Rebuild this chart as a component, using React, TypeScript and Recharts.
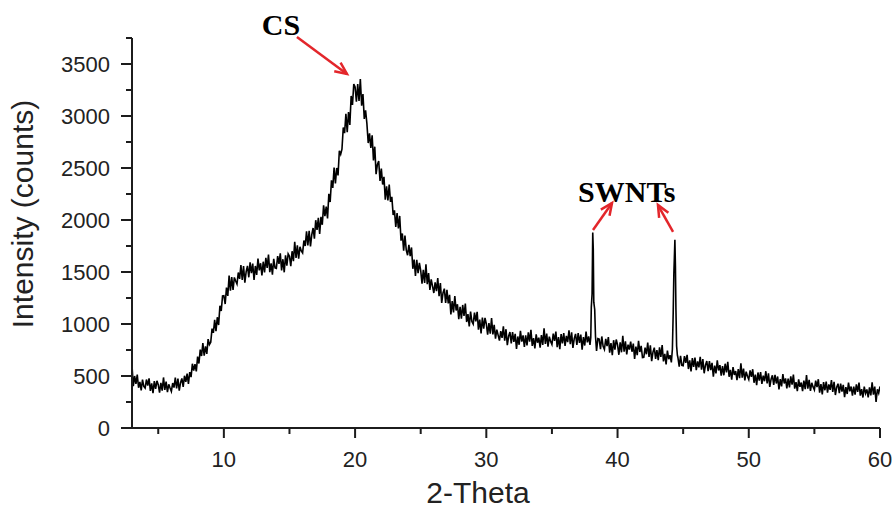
import React from "react"
import { LineChart, Line, XAxis, YAxis, ReferenceLine, ReferenceDot } from "recharts"

const scanStep = 0.1

// 3.0 - 37.8
const lowAngleStart = 3.0
const lowAngleCounts = [
  600, 403, 500, 425, 514, 387, 444, 361, 466, 399,
  384, 466, 408, 478, 356, 430, 336, 450, 376, 454,
  416, 340, 435, 359, 486, 366, 445, 345, 420, 384,
  352, 432, 388, 484, 380, 476, 360, 436, 476, 396,
  502, 443, 523, 424, 537, 489, 618, 551, 615, 544,
  686, 620, 753, 692, 816, 696, 784, 713, 855, 803,
  825, 955, 915, 1040, 930, 1065, 990, 1175, 1125, 1270,
  1272, 1192, 1350, 1270, 1466, 1321, 1451, 1328, 1448, 1413,
  1384, 1495, 1434, 1567, 1424, 1557, 1398, 1503, 1559, 1449,
  1592, 1490, 1580, 1423, 1558, 1472, 1629, 1516, 1584, 1466,
  1599, 1496, 1636, 1539, 1668, 1499, 1584, 1475, 1626, 1540,
  1535, 1653, 1578, 1679, 1516, 1623, 1497, 1660, 1562, 1675,
  1652, 1557, 1700, 1605, 1791, 1636, 1756, 1628, 1743, 1703,
  1684, 1803, 1750, 1891, 1756, 1897, 1746, 1859, 1923, 1821,
  1998, 1904, 2020, 1866, 2030, 1954, 2142, 2036, 2128, 2016,
  2252, 2173, 2381, 2309, 2504, 2352, 2500, 2429, 2665, 2631,
  2682, 2890, 2835, 3020, 2845, 3038, 2915, 3193, 3107, 3308,
  3280, 3137, 3308, 3145, 3355, 3100, 3210, 2972, 3055, 2927,
  2740, 2833, 2692, 2815, 2572, 2705, 2440, 2535, 2568, 2375,
  2495, 2341, 2415, 2196, 2323, 2188, 2341, 2174, 2222, 2049,
  2092, 1933, 2066, 1919, 2039, 1802, 1870, 1704, 1850, 1711,
  1661, 1762, 1653, 1736, 1531, 1620, 1462, 1616, 1488, 1588,
  1514, 1388, 1520, 1394, 1574, 1382, 1490, 1328, 1430, 1364,
  1298, 1400, 1316, 1442, 1268, 1394, 1202, 1298, 1340, 1202,
  1328, 1199, 1280, 1091, 1220, 1112, 1268, 1130, 1190, 1046,
  1164, 1052, 1183, 1077, 1197, 1019, 1095, 977, 1119, 1024,
  1000, 1109, 1025, 1117, 945, 1043, 909, 1062, 955, 1059,
  1000, 897, 1009, 906, 1058, 900, 992, 859, 946, 893,
  840, 931, 867, 978, 839, 950, 796, 882, 923, 814,
  923, 828, 906, 760, 880, 800, 935, 830, 890, 780,
  890, 795, 920, 830, 945, 790, 865, 765, 900, 820,
  868, 773, 893, 798, 958, 808, 908, 783, 878, 833,
  803, 908, 838, 928, 778, 873, 758, 903, 813, 913,
  790, 885, 825, 940, 805, 920, 770, 860, 905, 800,
  913, 818, 898, 753, 873, 793, 928, 823, 880,
]

// SWNT reflection near 38.1
const peak38Angles = [37.9, 37.96, 38.0, 38.06, 38.11, 38.15, 38.19, 38.26, 38.32, 38.4, 38.5]
const peak38Counts = [800, 870, 1160, 1290, 1880, 1720, 1210, 1140, 880, 740, 860]

// 38.6 - 44.0
const midAngleStart = 38.6
const midAngleCounts = [
  855, 758, 880, 785,
  755, 858, 787, 875, 724, 817, 701, 844, 753, 851,
  800, 704, 824, 728, 886, 735, 834, 708, 801, 754,
  830, 733, 811, 664, 782, 700, 838, 731, 789, 677,
  680, 772, 709, 821, 683, 796, 643, 730, 772, 664,
  750, 653, 776, 684, 797, 640, 713, 611, 744, 662,
  700,
]

// SWNT reflection near 44.4
const peak44Angles = [44.1, 44.18, 44.24, 44.29, 44.33, 44.37, 44.41, 44.45, 44.5, 44.56]
const peak44Counts = [630, 760, 1100, 1480, 1640, 1810, 1560, 1140, 790, 700]

// 44.6 - 60.0
const highAngleStart = 44.6
const highAngleCounts = [
  678, 590, 693, 603,
  599, 691, 626, 704, 567, 650, 544, 672, 588, 676,
  556, 640, 583, 685, 561, 663, 526, 605, 644, 547,
  644, 556, 626, 493, 600, 525, 650, 553, 605, 504,
  596, 507, 618, 534, 636, 493, 559, 465, 585, 510,
  548, 460, 567, 479, 621, 484, 572, 457, 541, 498,
  467, 553, 491, 565, 435, 513, 413, 534, 455, 537,
  424, 503, 450, 546, 429, 525, 395, 470, 506, 414,
  510, 428, 495, 370, 470, 401, 518, 428, 477, 382,
  474, 391, 496, 417, 513, 379, 441, 354, 467, 396,
  437, 355, 455, 373, 509, 379, 463, 356, 435, 395,
  367, 455, 393, 469, 340, 421, 322, 441, 363, 447,
  339, 419, 366, 460, 346, 443, 317, 392, 426, 334,
  427, 350, 414, 297, 393, 327, 437, 352, 399, 311,
  397, 320, 420, 347, 437, 312, 373, 293, 397, 333,
  371, 294, 390, 313, 439, 320, 398, 250, 372, 335,
  400,
]

const xTicks = [5, 10, 15, 20, 25, 30, 35, 40, 45, 50, 55, 60]
const yTicks = [0, 250, 500, 750, 1000, 1250, 1500, 1750, 2000, 2250, 2500, 2750, 3000, 3250, 3500, 3750]

const scanSegment = (start: number, counts: number[]) =>
  counts.map((c, i) => ({ theta: +(start + i * scanStep).toFixed(2), counts: c }))
const peakSegment = (angles: number[], counts: number[]) =>
  angles.map((a, i) => ({ theta: a, counts: counts[i] }))

const pattern = [
  ...scanSegment(lowAngleStart, lowAngleCounts),
  ...peakSegment(peak38Angles, peak38Counts),
  ...scanSegment(midAngleStart, midAngleCounts),
  ...peakSegment(peak44Angles, peak44Counts),
  ...scanSegment(highAngleStart, highAngleCounts),
]

// annotation arrows (data coordinates)
const arrows = [
  { from: [15.57, 3760], to: [19.38, 3404] },
  { from: [38.13, 1904], to: [39.58, 2163] },
  { from: [44.23, 1885], to: [43.08, 2144] },
]
const notes = [
  { text: "CS", theta: 14.35, counts: 3779 },
  { text: "SWNTs", theta: 40.7, counts: 2176 },
]

const INK = "#1c1c1c"
const RED = "#e3262b"
const SANS = "'Liberation Sans', Arial, sans-serif"
const SERIF = "'Liberation Serif', 'Times New Roman', serif"

function YTick(props: any) {
  const { x, y, payload } = props
  const major = payload.value % 500 === 0
  return (
    <g>
      <line x1={x} x2={x - (major ? 11 : 6)} y1={y} y2={y} stroke={INK} strokeWidth={2} />
      {major && (
        <text x={x - 22} y={y} dy={8} textAnchor="end" fontSize={22} fontFamily={SANS} fill="#222">
          {payload.value}
        </text>
      )}
    </g>
  )
}

function XTick(props: any) {
  const { x, y, payload } = props
  const major = payload.value % 10 === 0
  return (
    <g>
      <line x1={x} x2={x} y1={y} y2={y + (major ? 10 : 6)} stroke={INK} strokeWidth={2} />
      {major && (
        <text x={x} y={y + 39} textAnchor="middle" fontSize={22} fontFamily={SANS} fill="#222">
          {payload.value}
        </text>
      )}
    </g>
  )
}

function ArrowShape(props: any) {
  const { x1, y1, x2, y2 } = props
  const ang = Math.atan2(y2 - y1, x2 - x1)
  const len = 13
  const spread = 0.42
  const a = `${x2 - len * Math.cos(ang - spread)},${y2 - len * Math.sin(ang - spread)}`
  const b = `${x2 - len * Math.cos(ang + spread)},${y2 - len * Math.sin(ang + spread)}`
  return (
    <g>
      <line x1={x1} y1={y1} x2={x2} y2={y2} stroke={RED} strokeWidth={2.5} />
      <polyline points={`${a} ${x2},${y2} ${b}`} fill="none" stroke={RED} strokeWidth={2.5} />
    </g>
  )
}

export default function App() {
  return (
    <div style={{ position: "absolute", left: 0, top: 0, background: "#fff" }}>
      <LineChart width={893} height={508} data={pattern} margin={{ top: 38, right: 13, bottom: 0, left: 0 }}>
        <XAxis
          dataKey="theta"
          type="number"
          domain={[3, 60]}
          ticks={xTicks}
          interval={0}
          height={80}
          tickLine={false}
          tickSize={0}
          tickMargin={0}
          tick={<XTick />}
          axisLine={{ stroke: INK, strokeWidth: 2 }}
          allowDataOverflow
          label={{
            content: (p: any) => (
              <text x={p.viewBox.x + 346} y={p.viewBox.y + 75} textAnchor="middle" fontSize={30} fontFamily={SANS} fill="#222">
                2-Theta
              </text>
            ),
          }}
        />
        <YAxis
          type="number"
          domain={[0, 3750]}
          ticks={yTicks}
          interval={0}
          width={132}
          tickLine={false}
          tickSize={0}
          tickMargin={0}
          tick={<YTick />}
          axisLine={{ stroke: INK, strokeWidth: 2 }}
          allowDataOverflow
          label={{
            content: () => (
              <text
                x={33}
                y={214}
                transform="rotate(-90 33 214)"
                textAnchor="middle"
                fontSize={30}
                fontFamily={SANS}
                fill="#222"
              >
                Intensity (counts)
              </text>
            ),
          }}
        />
        <Line dataKey="counts" type="linear" stroke="#000" strokeWidth={1.6} dot={false} isAnimationActive={false} />
        {arrows.map((a, i) => (
          <ReferenceLine
            key={i}
            segment={[{ x: a.from[0], y: a.from[1] }, { x: a.to[0], y: a.to[1] }]}
            ifOverflow="visible"
            shape={ArrowShape}
          />
        ))}
        {notes.map((n) => (
          <ReferenceDot
            key={n.text}
            x={n.theta}
            y={n.counts}
            r={0}
            ifOverflow="visible"
            shape={(p: any) => (
              <text x={p.cx} y={p.cy} textAnchor="middle" fontSize={30} fontWeight="bold" fontFamily={SERIF} fill="#000">
                {n.text}
              </text>
            )}
          />
        ))}
      </LineChart>
    </div>
  )
}
